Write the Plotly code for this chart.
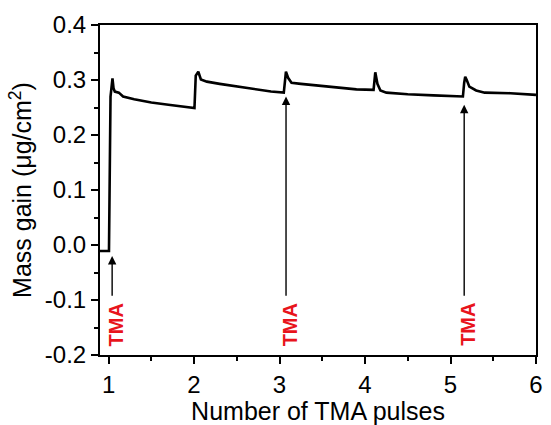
import plotly.graph_objects as go

pulses = [0.90, 1.005, 1.023, 1.046, 1.058, 1.073, 1.12, 1.17, 1.30, 1.50, 1.70, 1.85, 2.005,
          2.02, 2.05, 2.08, 2.15, 2.30, 2.50, 2.70, 2.90, 3.05,
          3.06, 3.075, 3.10, 3.14, 3.25, 3.50, 3.70, 3.90, 4.10,
          4.11, 4.12, 4.145, 4.18, 4.25, 4.50, 4.80, 5.145,
          5.16, 5.172, 5.19, 5.22, 5.30, 5.40, 5.70, 6.00]
mass = [-0.011, -0.011, 0.270, 0.303, 0.285, 0.279, 0.277, 0.270, 0.265, 0.259, 0.255, 0.252, 0.249,
        0.308, 0.315, 0.301, 0.297, 0.293, 0.288, 0.283, 0.279, 0.277,
        0.300, 0.315, 0.304, 0.295, 0.293, 0.289, 0.285, 0.283, 0.282,
        0.300, 0.314, 0.293, 0.281, 0.277, 0.274, 0.272, 0.270,
        0.295, 0.306, 0.300, 0.288, 0.281, 0.277, 0.276, 0.273]

arrow_x = [1.042, 3.076, 5.16]
arrow_head_y = [-0.02, 0.27, 0.255]
arrow_tail_y = [-0.095, -0.095, -0.095]
label_x = [1.084, 3.118, 5.206]
label_y = -0.145
label_text = "TMA"

fig = go.Figure()
fig.add_trace(go.Scatter(x=pulses, y=mass, mode="lines",
                         line=dict(color="black", width=2.6), showlegend=False,
                         hoverinfo="skip"))

for ax_, hy, ty, lx in zip(arrow_x, arrow_head_y, arrow_tail_y, label_x):
    fig.add_annotation(x=ax_, y=hy, ax=ax_, ay=ty, axref="x", ayref="y",
                       xref="x", yref="y", text="", showarrow=True,
                       arrowhead=2, arrowsize=1.2, arrowwidth=1.4, arrowcolor="black")
    fig.add_annotation(x=lx, y=label_y, xref="x", yref="y", text="<b>%s</b>" % label_text,
                       showarrow=False, textangle=-90,
                       font=dict(family="Liberation Sans, Arial", size=20, color="#e8141c"))

fig.update_layout(
    width=551, height=425,
    margin=dict(l=100, r=8, t=25, b=69),
    plot_bgcolor="white", paper_bgcolor="white",
    font=dict(family="Liberation Sans, Arial", color="black"),
)
fig.update_xaxes(range=[0.9, 6], tickvals=[1, 2, 3, 4, 5, 6],
                 ticks="outside", ticklen=7, tickwidth=1.5, tickcolor="black",
                 minor=dict(dtick=0.5, tick0=1, ticks="outside", ticklen=4, tickwidth=1.5, tickcolor="black"),
                 showline=True, linecolor="black", linewidth=2, mirror=True,
                 showgrid=False, zeroline=False,
                 tickfont=dict(size=24),
                 title=dict(text="Number of TMA pulses", font=dict(size=25), standoff=2))
fig.update_yaxes(range=[-0.2, 0.4], tickvals=[-0.2, -0.1, 0.0, 0.1, 0.2, 0.3, 0.4],
                 ticktext=["-0.2", "-0.1", "0.0", "0.1", "0.2", "0.3", "0.4"],
                 ticks="outside", ticklen=7, tickwidth=1.5, tickcolor="black",
                 minor=dict(dtick=0.05, tick0=0, ticks="outside", ticklen=4, tickwidth=1.5, tickcolor="black"),
                 showline=True, linecolor="black", linewidth=2, mirror=True,
                 showgrid=False, zeroline=False,
                 tickfont=dict(size=24),
                 title=dict(text="Mass gain (μg/cm<sup>2</sup>)", font=dict(size=25), standoff=6))

fig.write_html("out.html", config={"displayModeBar": False},
               post_script="document.body.style.margin='0px';document.body.style.overflow='hidden';")
